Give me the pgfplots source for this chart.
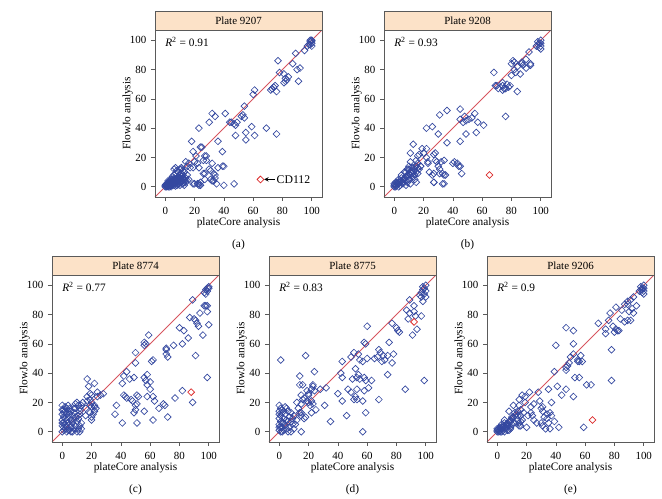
\documentclass[border=0pt]{standalone}
\usepackage{pgfplots}
\usepackage{pgfplotstable}
\pgfplotsset{compat=1.18}
\usepackage{fontspec}
\setmainfont{Liberation Serif}

\definecolor{markblue}{RGB}{52,72,160}
\definecolor{redline}{RGB}{215,85,95}
\definecolor{reddiam}{RGB}{220,45,45}
\definecolor{stripcol}{RGB}{252,226,200}
\definecolor{framecol}{RGB}{90,90,90}

% Plate 9207
\pgfplotstableread[row sep=\\]{x y\\
100 100\\ 99 99\\ 100 98\\ 99 97\\ 100 96\\ 98 97\\ 97 96\\ 100 99.5\\ 99 100\\
89 91\\ 95 93\\ 87 84\\ 77 86\\ 90 80\\ 92 81\\ 78 78\\ 81 77\\ 82 74\\ 83 73\\ 84 75\\ 82 72\\ 91 72\\
75 69\\ 74 68\\ 73 67\\ 72 66\\ 81 71\\ 76 65\\ 61 66\\ 60 63\\ 54 55\\
32 50\\ 34 48\\ 41 50\\ 23 40\\ 30 44\\ 44 44\\ 45 44\\ 47 43\\ 48 42\\ 49 44\\ 52 48\\ 53 49\\ 54 47\\
59 41\\ 69 40\\ 55 37\\ 48 35\\ 61 35\\ 76 36\\ 55 32\\
36 31\\ 18 31\\ 25 27\\ 39 24\\ 19 24\\ 28 21\\ 32 16\\ 39 14\\ 26 18\\ 30 12\\ 33 9\\ 35 2\\ 47 2\\
23 2\\ 19 2\\ 24 1\\ 22 2\\ 26 9\\ 31 5\\ 33 4\\ 36 13\\ 15 14\\ 17 13\\ 20 17\\ 12 11\\ 10 12\\ 6 12\\
24 27\\ 21 21\\ 27 21\\ 28 18\\ 22 16\\ 19 13\\ 23 13\\ 16 16\\ 14 17\\ 11 13\\ 7 13\\ 8 11\\ 31 11\\
34 8\\ 34 6\\ 27 9\\ 27 5\\ 32 4\\ 40 14\\ 40 1\\ 20 2\\ 23 1\\ 24 3\\
0 0\\ 1 1\\ 2 1\\ 1 0\\ 2 2\\ 3 2\\ 3 3\\ 4 3\\ 5 4\\ 4 2\\ 6 5\\ 5 3\\ 7 5\\ 6 6\\ 8 6\\ 7 4\\ 9 7\\
8 5\\ 10 8\\ 9 6\\ 11 9\\ 10 6\\ 12 8\\ 13 10\\ 6 2\\ 7 2\\ 8 3\\ 9 2\\ 10 3\\ 11 4\\ 12 4\\ 13 5\\
14 3\\ 15 4\\ 12 2\\ 13 1\\ 10 1\\ 5 1\\ 3 0\\ 2 0\\ 4 1\\ 8 1\\ 11 7\\ 14 6\\ 15 8\\ 16 5\\ 6 8\\
4 5\\ 3 4\\ 1 2\\ 0 1\\ 2 4\\ 5 7\\ 7 9\\ 9 10\\ 11 12\\
1 0.5\\ 2 0.5\\ 0.5 0.5\\ 1.5 1.5\\ 2.5 1.5\\ 3.5 2.5\\ 4.5 3.5\\ 5.5 4.5\\ 6.5 5\\ 7.5 5.5\\
8.5 5\\ 9.5 4\\ 10.5 5\\ 11.5 5.5\\ 12 6\\ 3.5 1\\ 5.5 2\\ 6.5 3\\ 7.5 3.5\\ 8.5 4\\ 9.5 5\\
10.5 6\\ 4 0\\ 6 1\\ 7 0.5\\ 9 1.5\\ 11 3\\ 12.5 3\\ 13.5 4\\ 0.5 1.5\\ 1.5 2.5\\ 2.5 3\\ 4.5 4.5\\
}\dataA

% Plate 9208
\pgfplotstableread[row sep=\\]{x y\\
100 100\\ 99 98\\ 98 97\\ 100 96\\ 99 95\\ 100 94\\ 97 96\\ 98 99\\ 100 98\\
92 92\\ 87 85\\ 90 87\\ 88 83\\ 93 83\\ 81 86\\ 82 85\\ 82 80\\ 83 78\\ 80 76\\ 86 77\\ 84 65\\
68 78\\ 70 69\\ 71 67\\ 74 71\\ 74 69\\ 77 70\\ 76 67\\ 78 68\\ 79 69\\ 74 66\\ 76 48\\
80 84\\ 87 84\\ 93 84\\ 90 81\\ 84 82\\ 69 69\\ 75 67\\
36 52\\ 31 49\\ 45 53\\ 45 46\\ 48 48\\ 47 44\\ 49 45\\ 51 46\\ 53 47\\ 55 50\\ 57 44\\ 61 42\\
56 37\\ 49 36\\ 45 31\\ 22 40\\ 26 41\\ 30 36\\ 36 30\\ 13 29\\ 20 23\\ 22 26\\ 28 23\\ 11 23\\ 17 22\\
40 16\\ 43 16\\ 45 14\\ 46 9\\ 34 18\\ 32 17\\ 30 14\\ 31 12\\ 31 9\\ 33 9\\ 34 8\\ 33 2\\ 24 10\\
26 8\\ 27 3\\ 23 17\\ 16 16\\ 19 26\\ 16 21\\ 22 20\\ 15 18\\ 11 17\\ 10 14\\ 12 13\\ 16 13\\ 18 14\\
23 16\\ 27 22\\ 28 18\\ 29 17\\ 27 9\\ 35 8\\ 27 3\\ 34 2\\ 41 17\\ 44 14\\
0 0\\ 1 1\\ 2 2\\ 1 0\\ 3 2\\ 2 1\\ 3 3\\ 4 4\\ 5 4\\ 4 3\\ 6 5\\ 5 6\\ 7 6\\ 8 7\\ 7 5\\ 9 8\\ 10 9\\
9 7\\ 11 10\\ 10 12\\ 12 11\\ 13 13\\ 11 8\\ 12 9\\ 13 10\\ 14 12\\ 15 14\\ 6 3\\ 8 4\\ 10 5\\ 12 6\\
14 8\\ 15 10\\ 2 3\\ 1 3\\ 0 2\\ 3 5\\ 5 8\\ 8 10\\ 9 12\\ 7 10\\ 13 7\\ 15 3\\ 14 5\\ 16 9\\ 4 1\\
6 2\\ 9 3\\ 11 2\\ 8 1\\ 3 0\\ 0 1\\ 17 12\\ 18 14\\
}\dataB

% Plate 8774
\pgfplotstableread[row sep=\\]{x y\\
98 97\\ 99 98\\ 100 99\\ 97 95\\ 99 96\\ 100 98\\ 98 94\\
89 90\\ 97 86\\ 98 86\\ 99 86\\ 94 81\\ 99 82\\ 87 78\\ 90 77\\ 91 76\\ 92 74\\ 93 72\\ 100 73\\
96 66\\ 80 71\\ 83 69\\ 86 64\\ 82 60\\ 91 52\\ 89 20\\ 99 37\\ 71 57\\ 71 56\\ 76 59\\ 71 53\\ 72 51\\
59 66\\ 56 61\\ 57 60\\ 56 59\\ 61 48\\ 62 49\\ 50 54\\ 50 47\\ 42 38\\ 44 41\\ 41 33\\ 46 36\\ 49 37\\
56 37\\ 58 39\\ 57 35\\ 58 32\\ 60 29\\ 60 34\\
37 18\\ 36 12\\ 42 25\\ 44 23\\ 43 24\\ 47 22\\ 48 21\\ 50 18\\ 51 19\\ 49 13\\ 50 15\\ 51 6\\ 41 6\\
51 25\\ 52 24\\ 56 14\\ 58 24\\ 62 24\\ 63 21\\ 62 8\\ 66 16\\ 69 19\\ 70 18\\ 72 10\\ 77 23\\ 82 28\\
17 36\\ 18 31\\ 22 33\\ 24 27\\ 26 25\\ 28 26\\ 17 24\\ 19 22\\ 20 20\\ 22 18\\ 22 17\\ 23 16\\ 21 12\\
20 10\\ 16 16\\ 11 11\\ 12 14\\ 10 20\\ 13 18\\ 8 16\\ 19 26\\ 20 25\\ 24 24\\ 17 21\\ 19 18\\ 20 17\\
22 14\\ 19 13\\ 20 8\\ 16 11\\ 12 16\\ 11 18\\ 14 20\\ 9 19\\
0 18\\ 1 15\\ 0 12\\ 1 10\\ 2 14\\ 0 8\\ 1 6\\ 0 4\\ 2 2\\ 0 0\\ 1 1\\ 3 3\\ 2 5\\ 3 8\\ 4 10\\ 3 12\\
4 14\\ 5 16\\ 5 5\\ 6 3\\ 5 1\\ 7 0\\ 8 2\\ 6 8\\ 7 11\\ 8 13\\ 9 10\\ 10 7\\ 9 4\\ 11 2\\ 12 4\\
10 0\\ 3 0\\ 4 1\\ 2 9\\ 1 13\\ 0 15\\ 6 14\\ 7 6\\ 11 9\\ 12 12\\ 13 6\\ 2 17\\ 4 18\\ 0 6\\ 1 3\\
8 8\\ 5 12\\ 9 16\\ 3 16\\ 6 0\\ 12 0\\ 13 2\\ 4 6\\
}\dataC

% Plate 8775
\pgfplotstableread[row sep=\\]{x y\\
100 100\\ 99 98\\ 98 97\\ 100 96\\ 97 95\\ 99 94\\ 96 93\\ 100 92\\ 98 99\\ 97 92\\
89 90\\ 92 86\\ 98 89\\ 87 83\\ 89 81\\ 92 82\\ 93 79\\ 97 79\\ 88 77\\ 94 70\\ 91 66\\ 77 74\\
80 71\\ 81 69\\ 82 68\\ 75 61\\ 78 53\\ 74 52\\ 77 47\\ 74 39\\ 68 56\\ 69 54\\ 71 52\\ 72 49\\
67 51\\ 65 50\\ 70 48\\ 68 22\\ 86 29\\ 99 35\\
60 72\\ 58 61\\ 59 60\\ 60 50\\ 54 53\\ 55 49\\ 51 54\\ 49 51\\ 57 48\\ 52 43\\ 50 36\\ 53 37\\
54 39\\ 55 36\\ 58 37\\ 59 35\\ 63 35\\ 61 30\\ 53 29\\ 52 24\\ 51 22\\ 53 22\\ 58 28\\ 57 21\\
59 13\\ 57 0\\ 43 48\\ 42 40\\ 43 37\\ 43 21\\ 46 11\\ 40 26\\ 47 29\\ 49 27\\
18 52\\ 1 49\\ 14 38\\ 24 41\\ 16 32\\ 19 28\\ 20 26\\ 20 25\\ 22 29\\ 23 31\\ 24 28\\ 28 29\\
32 30\\ 31 18\\ 25 15\\ 35 7\\ 20 20\\ 21 18\\ 23 19\\ 17 23\\ 15 19\\ 14 13\\ 15 11\\ 18 10\\
15 0\\ 12 20\\ 13 16\\ 14 32\\ 23 32\\ 15 25\\ 16 22\\ 19 21\\ 22 21\\ 22 13\\ 15 13\\ 17 9\\
0 18\\ 1 16\\ 0 14\\ 2 13\\ 1 11\\ 0 9\\ 1 7\\ 0 5\\ 2 3\\ 0 1\\ 1 0\\ 3 1\\ 2 6\\ 3 9\\ 4 12\\
3 14\\ 5 16\\ 4 4\\ 5 2\\ 6 0\\ 7 3\\ 6 7\\ 7 10\\ 8 13\\ 9 5\\ 10 2\\ 8 0\\ 9 9\\ 10 11\\ 4 17\\
2 15\\ 0 12\\ 1 3\\ 5 8\\ 3 6\\ 6 14\\ 8 7\\ 11 5\\ 12 8\\ 2 0\\ 0 3\\
}\dataD

% Plate 9206
\pgfplotstableread[row sep=\\]{x y\\
100 100\\ 99 98\\ 98 97\\ 100 96\\ 99 95\\ 100 94\\ 97 96\\ 98 99\\ 99 97\\ 100 98\\
93 92\\ 91 90\\ 89 89\\ 89 87\\ 87 87\\ 95 86\\ 92 84\\ 90 82\\ 93 81\\ 85 83\\ 81 85\\ 84 77\\
89 76\\ 91 76\\ 87 75\\ 77 81\\ 76 76\\ 79 72\\ 81 70\\ 82 69\\ 80 68\\ 74 70\\ 74 67\\ 83 69\\
69 74\\ 78 56\\ 78 35\\
47 71\\ 52 69\\ 52 60\\ 40 59\\ 50 51\\ 52 53\\ 48 45\\ 49 47\\ 47 42\\ 47 44\\ 55 48\\ 56 48\\
58 48\\ 57 52\\ 55 49\\ 39 41\\ 53 37\\ 56 37\\ 52 24\\ 41 31\\ 35 29\\ 44 25\\ 47 29\\ 61 32\\
64 32\\ 59 3\\
22 27\\ 28 27\\ 17 25\\ 15 22\\ 19 24\\ 15 18\\ 16 15\\ 11 18\\ 31 17\\ 30 16\\ 37 20\\ 36 13\\
37 11\\ 32 10\\ 34 9\\ 39 7\\ 35 6\\ 30 6\\ 31 4\\ 33 2\\ 36 2\\ 42 3\\ 23 13\\ 24 11\\ 25 8\\
27 6\\ 20 3\\ 17 8\\ 16 7\\ 15 4\\ 18 13\\ 21 11\\ 14 11\\ 10 10\\ 8 14\\ 12 13\\ 9 7\\ 6 5\\ 7 4\\
19 20\\ 25 19\\ 29 21\\ 31 14\\ 34 12\\ 23 17\\ 16 11\\ 15 6\\ 16 4\\
0 0\\ 1 1\\ 2 2\\ 1 0\\ 3 2\\ 2 1\\ 3 3\\ 4 4\\ 5 4\\ 4 3\\ 6 5\\ 5 6\\ 7 6\\ 8 7\\ 7 5\\ 9 8\\
10 9\\ 11 10\\ 12 11\\ 6 3\\ 8 4\\ 10 5\\ 12 6\\ 14 8\\ 2 3\\ 0 2\\ 3 5\\ 5 8\\ 4 1\\ 6 2\\ 9 3\\
8 1\\ 3 0\\ 0 1\\ 1 2\\ 2 0\\ 13 12\\ 14 14\\ 11 6\\ 9 2\\ 7 1\\ 5 0\\
}\dataE

\pgfplotsset{
  panel/.style={
    scale only axis, width=125.25pt, height=125.25pt,
    xmin=-7, xmax=107, ymin=-7, ymax=107,
    xtick={0,20,...,100}, ytick={0,20,...,100},
    tick align=outside, xtick pos=bottom, ytick pos=left,
    major tick length=3pt,
    axis line style={framecol, line width=0.5pt},
    tick style={framecol, line width=0.5pt},
    ticklabel style={font=\rmfamily\fontsize{8.2}{9}\selectfont},
    xticklabel style={yshift=-1pt},
    /pgf/number format/assume math mode=true,
    xlabel={plateCore analysis}, ylabel={FlowJo analysis},
    label style={font=\rmfamily\fontsize{8.5}{9}\selectfont},
    xlabel style={at={([yshift=-19pt]axis description cs:0.5,0)}, anchor=center},
    ylabel style={at={([xshift=-20.5pt]axis description cs:0,0.5)}, anchor=center},
    clip=false,
  },
  blue pts/.style={only marks, mark=square, color=markblue, mark size=1.8pt,
    mark options={rotate=45, line width=0.5pt}},
  red pt/.style={only marks, mark=square, color=reddiam, mark size=1.8pt,
    mark options={rotate=45, line width=0.55pt}},
  diag/.style={color=redline, line width=0.6pt, no marks},
}

\newcommand\strip[1]{%
  \draw[framecol, line width=0.5pt, fill=stripcol] (rel axis cs:0,1) rectangle ([yshift=14.25pt]rel axis cs:1,1);
  \node[font=\rmfamily\fontsize{8.2}{9}\selectfont] at ([yshift=7.1pt]rel axis cs:0.5,1) {#1};
  \draw[framecol, line width=0.5pt] (rel axis cs:0,0) rectangle (rel axis cs:1,1);
}
\newcommand\rsq[1]{%
  \node[anchor=west, inner sep=0pt, font=\rmfamily\fontsize{8.5}{9}\selectfont] at ([xshift=7.5pt,yshift=-9pt]rel axis cs:0,1) {\textit{R}\textsuperscript{2} = #1};
}
\newcommand\subcap[1]{%
  \node[font=\rmfamily\fontsize{8.5}{9}\selectfont] at ([yshift=-36pt]rel axis cs:0.5,0) {#1};
}

\begin{document}
\begin{tikzpicture}
\useasboundingbox (0,0) rectangle (496.5pt,374.25pt);

% (a) Plate 9207
\begin{axis}[panel, at={(116.25pt,226.5pt)}, anchor=south west]
  \addplot[diag] coordinates {(-7,-7) (107,107)};
  \addplot[blue pts] table {\dataA};
  \addplot[red pt] coordinates {(65,5)};
  \draw[<-, >=stealth, line width=0.5pt] (axis cs:67.5,5) -- (axis cs:75,5);
  \node[anchor=west, inner sep=1pt, font=\rmfamily\fontsize{8.8}{9}\selectfont] at (axis cs:75,5) {CD112};
  \strip{Plate 9207}
  \rsq{0.91}
  \subcap{(a)}
\end{axis}

% (b) Plate 9208
\begin{axis}[panel, at={(288pt,226.5pt)}, anchor=south west]
  \addplot[diag] coordinates {(-7,-7) (107,107)};
  \addplot[blue pts] table {\dataB};
  \addplot[red pt] coordinates {(65,8)};
  \strip{Plate 9208}
  \rsq{0.93}
  \subcap{(b)}
\end{axis}

% (c) Plate 8774
\begin{axis}[panel, at={(39pt,42.75pt)}, anchor=south west]
  \addplot[diag] coordinates {(-7,-7) (107,107)};
  \addplot[blue pts] table {\dataC};
  \addplot[red pt] coordinates {(88,27)};
  \strip{Plate 8774}
  \rsq{0.77}
  \subcap{(c)}
\end{axis}

% (d) Plate 8775
\begin{axis}[panel, at={(201.75pt,42.75pt)}, anchor=south west]
  \addplot[diag] coordinates {(-7,-7) (107,107)};
  \addplot[blue pts] table {\dataD};
  \addplot[red pt] coordinates {(92,75)};
  \strip{Plate 8775}
  \rsq{0.83}
  \subcap{(d)}
\end{axis}

% (e) Plate 9206
\begin{axis}[panel, at={(365.25pt,42.75pt)}, anchor=south west]
  \addplot[diag] coordinates {(-7,-7) (107,107)};
  \addplot[blue pts] table {\dataE};
  \addplot[red pt] coordinates {(65,8)};
  \strip{Plate 9206}
  \rsq{0.9}
  \subcap{(e)}
\end{axis}
\end{tikzpicture}
\end{document}
